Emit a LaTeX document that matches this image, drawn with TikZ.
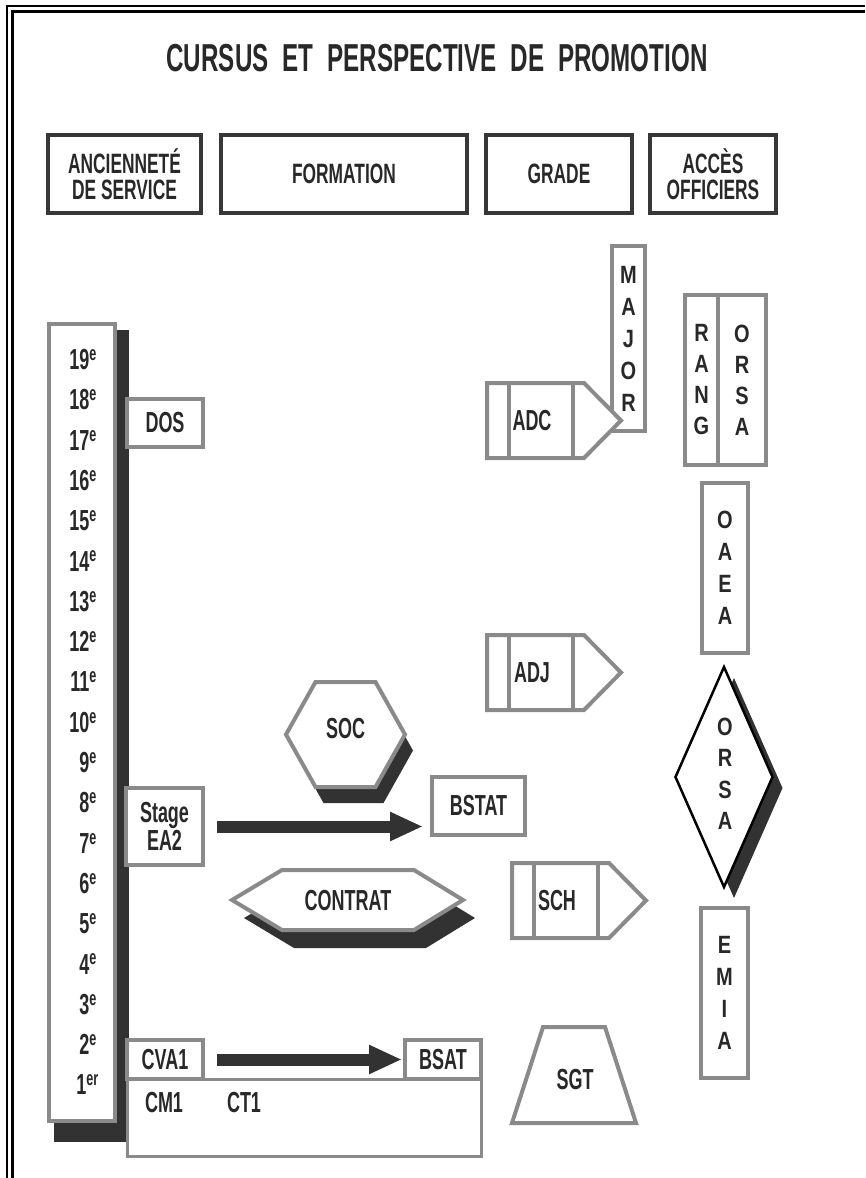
\documentclass[tikz,border=0pt]{standalone}
\usepackage{fontspec}
\setmainfont[FakeStretch=0.62, UprightFont=*-Bold]{Liberation Sans}
\newfontfamily\letterfont[FakeStretch=0.8, UprightFont=*-Bold]{Liberation Sans}
\usetikzlibrary{arrows.meta}

\definecolor{boxgray}{RGB}{138,138,138}
\definecolor{hdrgray}{RGB}{55,55,55}
\definecolor{shadegray}{RGB}{50,50,50}
\definecolor{inkgray}{RGB}{40,40,40}

\tikzset{
  hdrbox/.style={draw=hdrgray, line width=4pt, align=center, inner sep=0pt,
    text=inkgray, font=\fontsize{28}{26}\selectfont},
  graybox/.style={draw=boxgray, line width=4pt, fill=white, inner sep=0pt,
    text=inkgray, font=\fontsize{29}{29}\selectfont},
  lbl/.style={inner sep=0pt, text=inkgray, font=\fontsize{29}{29}\selectfont},
  letterbox/.style={draw=boxgray, line width=4pt, fill=white, inner sep=0pt,
    align=center, text=inkgray, font=\letterfont\fontsize{25}{32}\selectfont},
  gradeline/.style={draw=boxgray, line width=4pt, fill=white},
  hexline/.style={draw=boxgray, line width=4pt, fill=white},
  bigarrow/.style={draw=shadegray, line width=12pt,
    -{Triangle[length=33pt,width=27pt]}},
}

\begin{document}
\begin{tikzpicture}[x=1pt, y=-1pt]
    \useasboundingbox (0,0) rectangle (865,1178);

    % Frame
    \draw[line width=1.5pt] (7,1178) -- (7,6) -- (865,6);
    \draw[line width=3pt] (12,1178) -- (12,11) -- (865,11);

    % Title
    \node[inner sep=0pt, text=inkgray, font=\fontsize{39}{39}\selectfont] (title) at (437,58)
      {CURSUS\hspace{14pt}ET\hspace{14pt}PERSPECTIVE\hspace{14pt}DE\hspace{14pt}PROMOTION};

    % Column headers
    \node[hdrbox, minimum width=153pt, minimum height=78pt] (anc) at (124.5,174) {ANCIENNETÉ\\DE SERVICE};
    \node[hdrbox, minimum width=246pt, minimum height=78pt] (form) at (344,174) {FORMATION};
    \node[hdrbox, minimum width=146pt, minimum height=78pt] (grade) at (559,174) {GRADE};
    \node[hdrbox, minimum width=126pt, minimum height=78pt] (acces) at (713,174) {ACCÈS\\OFFICIERS};

    % Seniority scale
    \fill[shadegray] (54,330) rectangle (129,1142);
    \node[draw=boxgray, line width=4pt, fill=white, inner sep=0pt,
      minimum width=66pt, minimum height=797pt] (years) at (82,722.5) {};
    \foreach \n in {19,18,...,2}
      \node[lbl, anchor=base east] (y\n) at (97,{369.5+(19-\n)*40.3}) {\n\textsuperscript{e}};
    \node[lbl, anchor=base east] (y1) at (99,1094.9) {1\textsuperscript{er}};

    % Training
    \node[graybox, minimum width=76pt, minimum height=48pt] (dos) at (165,423) {DOS};
    \node[graybox, minimum width=77pt, minimum height=77pt, align=center,
      font=\fontsize{29}{23}\selectfont] (stage) at (164.5,826.5) {Stage\\EA2};
    \node[graybox, minimum width=93pt, minimum height=58pt] (bstat) at (478.5,806) {BSTAT};

    \fill[shadegray, shift={(8,16)}] (315.5,682) -- (375.5,682) -- (405,734.5)
      -- (375.5,787) -- (315.5,787) -- (286,734.5) -- cycle;
    \draw[hexline] (315.5,682) -- (375.5,682) -- (405,734.5)
      -- (375.5,787) -- (315.5,787) -- (286,734.5) -- cycle;
    \node[lbl] (soc) at (345.5,729) {SOC};

    \fill[shadegray, shift={(12,18)}] (232,900) -- (282,870) -- (414,870)
      -- (463,900) -- (414,930) -- (282,930) -- cycle;
    \draw[hexline] (232,900) -- (282,870) -- (414,870)
      -- (463,900) -- (414,930) -- (282,930) -- cycle;
    \node[lbl] (contrat) at (348,901) {CONTRAT};

    \node[draw=boxgray, line width=3pt, inner sep=0pt,
      minimum width=354pt, minimum height=77pt] (basebox) at (304,1117.5) {};
    \node[graybox, minimum width=76pt, minimum height=39pt] (cva1) at (165,1059.5) {CVA1};
    \node[graybox, minimum width=76pt, minimum height=39pt] (bsat) at (443,1059.5) {BSAT};
    \node[lbl] (cm1) at (164,1103) {CM1};
    \node[lbl] (ct1) at (244,1103) {CT1};

    \draw[bigarrow, shorten <=12pt, shorten >=7pt] (stage.east) -- (stage.east -| bstat.west);
    \draw[bigarrow, shorten <=12pt, shorten >=1pt] (cva1.east) -- (cva1.east -| bsat.west);

    % Grades
    \node[letterbox, minimum width=33pt, minimum height=185pt] (major) at (628.5,338.5) {M\\A\\J\\O\\R};
    \foreach \nm/\x/\y/\txt in {adc/487/383/ADC, adj/487/635/ADJ, sch/512/863/SCH}{
      \draw[gradeline] (\x,\y) -- ++(97,0) -- ++(37,37.5) -- ++(-37,37.5) -- ++(-97,0) -- cycle;
      \draw[gradeline] (\x+22,\y) -- ++(0,75);
      \draw[gradeline] (\x+85.5,\y) -- ++(0,75);
      \node[lbl] (\nm) at (\x+45,\y+38) {\txt};
    }
    \draw[hexline] (543,1027) -- (605,1027) -- (636,1123) -- (512,1123) -- cycle;
    \node[lbl] (sgt) at (575,1080) {SGT};

    % Officer access
    \node[letterbox, minimum width=33pt, minimum height=170pt,
      font=\letterfont\fontsize{25}{31}\selectfont] (rang) at (701.5,380) {R\\A\\N\\G};
    \node[letterbox, minimum width=48pt, minimum height=170pt,
      font=\letterfont\fontsize{25}{31}\selectfont] (orsarang) at (742,380) {O\\R\\S\\A};
    \node[letterbox, minimum width=46pt, minimum height=170pt] (oaea) at (725,568) {O\\A\\E\\A};

    \fill[shadegray, shift={(10,11)}] (724,667) -- (772.5,777) -- (724,887) -- (675.5,777) -- cycle;
    \draw[line width=2.5pt, fill=white] (724,667) -- (772.5,777) -- (724,887) -- (675.5,777) -- cycle;
    \node[inner sep=0pt, align=center, text=inkgray, font=\letterfont\fontsize{25}{31.5}\selectfont]
      (orsa) at (725,774) {O\\R\\S\\A};

    \node[letterbox, minimum width=47pt, minimum height=170pt] (emia) at (724.5,993) {E\\M\\I\\A};
\end{tikzpicture}
\end{document}
